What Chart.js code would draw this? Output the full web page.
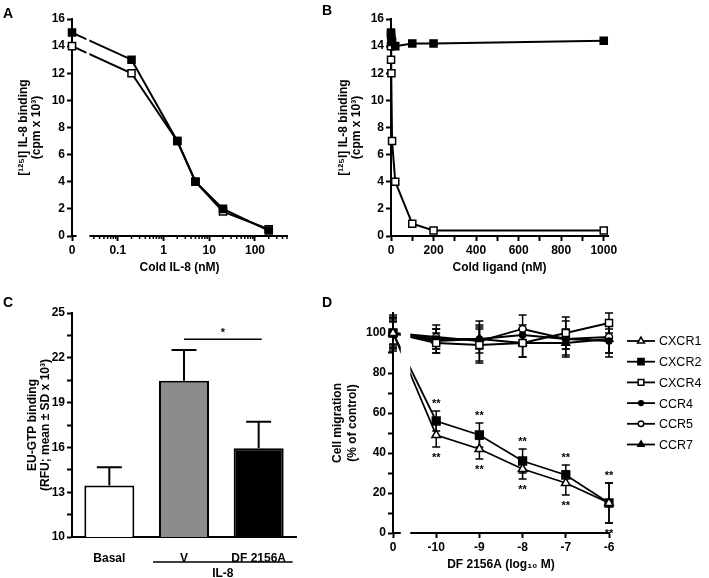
<!DOCTYPE html>
<html>
<head>
<meta charset="utf-8">
<script src="https://cdn.jsdelivr.net/npm/chart.js@4.4.0/dist/chart.umd.min.js"></script>
<style>
body { margin: 0; background: #fff; width: 709px; height: 578px; position: relative; overflow: hidden; font-family: "Liberation Sans", Arial, sans-serif; }
canvas { position: absolute; }
.letter { position: absolute; font-weight: bold; font-size: 14px; line-height: 14px; }
</style>
</head>
<body>
<canvas id="chartA" width="340" height="280" style="left:0;top:0"></canvas>
<canvas id="chartB" width="374" height="280" style="left:335px;top:0"></canvas>
<canvas id="chartC" width="330" height="288" style="left:0;top:290px"></canvas>
<canvas id="chartD" width="379" height="288" style="left:330px;top:290px"></canvas>
<div class="letter" style="left:3px;top:6px">A</div>
<div class="letter" style="left:322px;top:3px">B</div>
<div class="letter" style="left:3px;top:295px">C</div>
<div class="letter" style="left:322px;top:295px">D</div>
<script>
// ---- Panel A : competition with cold IL-8 (log axis, 0 drawn at the left) ----
const concA = [0, 0.2, 2, 5, 20, 200];
const bindFilledA = [15, 13, 7, 4, 2, 0.4];
const bindOpenA = [14, 12, 7, 4, 1.8, 0.5];
const tickConcA = [0, 0.1, 1, 10, 100];

// ---- Panel B : cold ligand, linear axis ----
const concB = [0, 0.2, 2, 5, 20, 100, 200, 1000];
const bindFilledB = [15, 14.8, 14.5, 14.3, 14.0, 14.2, 14.2, 14.4];
const bindOpenB = [14, 13, 12, 7, 4, 0.9, 0.4, 0.4];

// ---- Panel C : EU-GTP binding ----
const groupsC = ['Basal', 'V', 'DF 2156A'];
const meanC = [13.45, 20.47, 15.94];
const sdC = [1.22, 2.05, 1.78];
const sigPairC = ['V', 'DF 2156A'];
const sigLevelC = 23.25;
const sigTextC = '*';
const groupLabelC = 'IL-8';
const groupMembersC = ['V', 'DF 2156A'];

// ---- Panel D : cell migration vs DF 2156A ----
const doseD = [0, -10, -9, -8, -7, -6];
const doseLabelsD = ['0', '-10', '-9', '-8', '-7', '-6'];
const receptorsD = ['CXCR1', 'CXCR2', 'CXCR4', 'CCR4', 'CCR5', 'CCR7'];
const migCXCR1 = [100, 49, 42, 32, 25, 15];
const errCXCR1 = [7, 6, 5, 5, 6, 10];
const migCXCR2 = [100, 56, 49, 36, 29, 15];
const errCXCR2 = [8, 5, 6, 6, 5, 10];
const migCXCR4 = [100, 95, 94, 95, 100, 105];
const errCXCR4 = [9, 5, 9, 7, 8, 5];
const migCCR4 = [100, 97, 97, 99, 97, 96];
const errCCR4 = [6, 5, 5, 5, 5, 6];
const migCCR5 = [100, 98, 96, 102, 97, 98];
const errCCR5 = [7.5, 6, 10, 7, 9, 8];
const migCCR7 = [100, 96, 97, 95, 95, 97];
const errCCR7 = [5.5, 6, 7, 7, 6, 9];
const starsAboveD = ['', '**', '**', '**', '**', '**'];
const starsBelowD = ['', '**', '**', '**', '**', '**'];

// where the "0" dose sits on the transformed axes, and the axis breaks
const zeroPosA = -2;
const breakA = [-1.9, -1.62];
const zeroPosD = -11;
const breakD = [-10.82, -10.6];

Chart.defaults.font.family = '"Liberation Sans", Arial, sans-serif';
Chart.defaults.font.size = 12;
Chart.defaults.color = '#000';
Chart.defaults.plugins.legend.display = false;
Chart.defaults.plugins.tooltip.enabled = false;

const boldFont = { size: 12, weight: 'bold' };

function axis(extra) {
    const base = {
        grid: { display: true, drawOnChartArea: false, tickLength: 5, tickWidth: 2, tickColor: '#000' },
        border: { display: true, color: '#000', width: 2 },
        ticks: { font: boldFont, color: '#000', padding: 2, autoSkip: false, maxRotation: 0 }
    };
    return Object.assign(base, extra);
}

function lineSet(xs, ys, style, filled, extra) {
    return Object.assign({
        data: xs.map((x, i) => ({ x: x, y: ys[i] })),
        borderColor: '#000',
        borderWidth: 2,
        pointStyle: style,
        pointRadius: 5,
        pointBorderWidth: 1.5,
        pointBorderColor: '#000',
        pointBackgroundColor: filled ? '#000' : '#fff',
        clip: false,
        tension: 0
    }, extra || {});
}

// ---------------- A ----------------
const logA = c => c === 0 ? zeroPosA : Math.log10(c);
const minorA = [];
for (let d = -2; d <= 2; d++) {
    for (let k = 2; k <= 9; k++) {
        const v = d + Math.log10(k);
        if (v > breakA[1] && v < 2.7) minorA.push(v);
    }
}

new Chart(document.getElementById('chartA'), {
    type: 'line',
    data: {
        datasets: [
            lineSet(concA.map(logA), bindFilledA, 'rect', true),
            lineSet(concA.map(logA), bindOpenA, 'rect', false)
        ]
    },
    options: {
        responsive: false,
        animation: false,
        layout: { padding: { top: 19, right: 53, left: 0, bottom: 0 } },
        scales: {
            x: axis({
                type: 'linear', min: zeroPosA, max: 2.7,
                afterBuildTicks: s => { s.ticks = tickConcA.map(c => ({ value: logA(c) })); },
                afterFit: s => { s.height = 44; },
                title: { display: true, text: 'Cold IL-8 (nM)', font: boldFont, padding: { top: 0, bottom: 5 } }
            }),
            y: axis({
                min: 0, max: 16,
                afterBuildTicks: s => { s.ticks = [0, 2, 4, 6, 8, 10, 12, 14, 16].map(v => ({ value: v })); },
                afterFit: s => { s.width = 72; },
                title: { display: true, text: ['[¹²⁵I] IL-8 binding', '(cpm x 10³)'], font: { size: 12, weight: 'bold', lineHeight: 1.12 }, padding: { top: 17, bottom: 0 } }
            })
        }
    },
    plugins: [{
        id: 'labelsAndBreakA',
        afterDraw(chart) {
            const ctx = chart.ctx, x = chart.scales.x, a = chart.chartArea;
            ctx.save();
            ctx.strokeStyle = '#000';
            ctx.lineWidth = 1.5;
            minorA.forEach(v => {
                const px = x.getPixelForValue(v);
                ctx.beginPath();
                ctx.moveTo(px, a.bottom);
                ctx.lineTo(px, a.bottom + 3);
                ctx.stroke();
            });
            const g0 = x.getPixelForValue(breakA[0]), g1 = x.getPixelForValue(breakA[1]);
            ctx.fillStyle = '#fff';
            ctx.fillRect(g0, a.bottom - 2, g1 - g0, 4);
            ctx.fillRect(g1 - 3, a.top - 4, 3, a.bottom - a.top - 4);
            ctx.restore();
        }
    }]
});
Chart.getChart('chartA').options.scales.x.ticks.callback = (v, i) => String(tickConcA[i]);
Chart.getChart('chartA').update();

// ---------------- B ----------------
new Chart(document.getElementById('chartB'), {
    type: 'line',
    data: {
        datasets: [
            lineSet(concB, bindFilledB, 'rect', true),
            lineSet(concB, bindOpenB, 'rect', false)
        ]
    },
    options: {
        responsive: false,
        animation: false,
        layout: { padding: { top: 19, right: 101, left: 0, bottom: 0 } },
        scales: {
            x: axis({
                type: 'linear', min: 0, max: 1020,
                afterBuildTicks: s => { s.ticks = [0, 100, 200, 300, 400, 500, 600, 700, 800, 900, 1000].map(v => ({ value: v })); },
                afterFit: s => { s.height = 44; },
                title: { display: true, text: 'Cold ligand (nM)', font: boldFont, padding: { top: 0, bottom: 5 } }
            }),
            y: axis({
                min: 0, max: 16,
                afterBuildTicks: s => { s.ticks = [0, 2, 4, 6, 8, 10, 12, 14, 16].map(v => ({ value: v })); },
                afterFit: s => { s.width = 56; },
                title: { display: true, text: ['[¹²⁵I] IL-8 binding', '(cpm x 10³)'], font: { size: 12, weight: 'bold', lineHeight: 1.12 }, padding: { top: 2, bottom: 0 } }
            })
        }
    }
});
Chart.getChart('chartB').options.scales.x.ticks.callback = v => (v % 200 === 0 ? String(v) : '');
Chart.getChart('chartB').update();

// ---------------- C ----------------
new Chart(document.getElementById('chartC'), {
    type: 'bar',
    data: {
        labels: groupsC,
        datasets: [{
            data: meanC,
            errors: sdC,
            backgroundColor: ['#ffffff', '#8c8c8c', '#000000'],
            borderColor: '#000',
            borderWidth: 2,
            borderSkipped: false,
            barPercentage: 0.67,
            categoryPercentage: 1.0
        }]
    },
    options: {
        responsive: false,
        animation: false,
        layout: { padding: { top: 23, right: 34, left: 0, bottom: 0 } },
        scales: {
            x: {
                grid: { display: false },
                border: { display: true, color: '#000', width: 2 },
                ticks: { font: boldFont, color: '#000', padding: 6 },
                afterFit: s => { s.height = 41; }
            },
            y: axis({
                min: 10, max: 25,
                afterBuildTicks: s => { s.ticks = [10, 11.5, 13, 14.5, 16, 17.5, 19, 20.5, 22, 23.5, 25].map(v => ({ value: v })); },
                afterFit: s => { s.width = 72; },
                title: { display: true, text: ['EU-GTP binding', '(RFU; mean ± SD x 10³)'], font: { size: 12, weight: 'bold', lineHeight: 1.1 }, padding: { top: 26, bottom: 0 } }
            })
        }
    },
    plugins: [{
        id: 'extrasC',
        afterDatasetsDraw(chart) {
            const ctx = chart.ctx, y = chart.scales.y, x = chart.scales.x, a = chart.chartArea;
            const ds = chart.data.datasets[0];
            const meta = chart.getDatasetMeta(0);
            ctx.save();
            ctx.strokeStyle = '#000';
            ctx.lineWidth = 2;
            meta.data.forEach((bar, i) => {
                const top = y.getPixelForValue(ds.data[i] + ds.errors[i]);
                ctx.beginPath();
                ctx.moveTo(bar.x, bar.y);
                ctx.lineTo(bar.x, top);
                ctx.moveTo(bar.x - 12.5, top);
                ctx.lineTo(bar.x + 12.5, top);
                ctx.stroke();
            });
            // significance bar
            const sx0 = x.getPixelForValue(groupsC.indexOf(sigPairC[0]));
            const sx1 = x.getPixelForValue(groupsC.indexOf(sigPairC[1])) + 3;
            const sy = y.getPixelForValue(sigLevelC);
            ctx.lineWidth = 1.5;
            ctx.beginPath();
            ctx.moveTo(sx0, sy);
            ctx.lineTo(sx1, sy);
            ctx.stroke();
            ctx.fillStyle = '#000';
            ctx.font = 'bold 11px "Liberation Sans", Arial, sans-serif';
            ctx.textAlign = 'center';
            ctx.textBaseline = 'middle';
            ctx.fillText(sigTextC, (sx0 + sx1) / 2, sy - 6);
            // IL-8 group line under the labels
            const gx0 = x.getPixelForValue(groupsC.indexOf(groupMembersC[0])) - 31;
            const gx1 = x.getPixelForValue(groupsC.indexOf(groupMembersC[groupMembersC.length - 1])) + 34;
            ctx.lineWidth = 1.5;
            ctx.beginPath();
            ctx.moveTo(gx0, a.bottom + 25);
            ctx.lineTo(gx1, a.bottom + 25);
            ctx.stroke();
            ctx.font = 'bold 12px "Liberation Sans", Arial, sans-serif';
            ctx.fillText(groupLabelC, (gx0 + gx1) / 2, a.bottom + 37);
            ctx.restore();
        }
    }]
});
Chart.getChart('chartC').options.scales.y.ticks.callback = v => (Math.abs((v - 10) / 3 - Math.round((v - 10) / 3)) < 1e-6 ? String(v) : '');
Chart.getChart('chartC').update();

// ---------------- D ----------------
const xD = doseD.map(d => d === 0 ? zeroPosD : d);
const seriesD = [
    lineSet(xD, migCXCR1, 'triangle', false, { label: 'CXCR1', errors: errCXCR1, pointRadius: 5 }),
    lineSet(xD, migCXCR2, 'rect', true, { label: 'CXCR2', errors: errCXCR2, pointRadius: 5.5 }),
    lineSet(xD, migCXCR4, 'rect', false, { label: 'CXCR4', errors: errCXCR4, pointRadius: 5 }),
    lineSet(xD, migCCR4, 'circle', true, { label: 'CCR4', errors: errCCR4, pointRadius: 3 }),
    lineSet(xD, migCCR5, 'circle', false, { label: 'CCR5', errors: errCCR5, pointRadius: 3.5 }),
    lineSet(xD, migCCR7, 'triangle', true, { label: 'CCR7', errors: errCCR7, pointRadius: 4.5 })
];
seriesD.forEach(s => { s.borderWidth = 1.8; });

new Chart(document.getElementById('chartD'), {
    type: 'line',
    data: { datasets: seriesD },
    options: {
        responsive: false,
        animation: false,
        layout: { padding: { top: 23, right: 100, left: 0, bottom: 0 } },
        scales: {
            x: axis({
                type: 'linear', min: zeroPosD, max: -6,
                afterBuildTicks: s => { s.ticks = xD.map(v => ({ value: v })); },
                afterFit: s => { s.height = 45; },
                title: { display: true, text: 'DF 2156A (log₁₀ M)', font: boldFont, padding: { top: 0, bottom: 6 } }
            }),
            y: axis({
                min: 0, max: 110,
                afterBuildTicks: s => { s.ticks = [0, 10, 20, 30, 40, 50, 60, 70, 80, 90, 100].map(v => ({ value: v })); },
                afterFit: s => { s.width = 63; },
                title: { display: true, text: ['Cell migration', '(% of control)'], font: { size: 12, weight: 'bold', lineHeight: 1.25 }, padding: { top: 0, bottom: 0 } }
            })
        }
    },
    plugins: [{
        id: 'errorBarsD',
        beforeDatasetsDraw(chart) {
            const ctx = chart.ctx, y = chart.scales.y;
            ctx.save();
            ctx.strokeStyle = '#000';
            ctx.lineWidth = 1.5;
            chart.data.datasets.forEach((ds, i) => {
                chart.getDatasetMeta(i).data.forEach((pt, j) => {
                    const v = ds.data[j].y, e = ds.errors[j];
                    const t = y.getPixelForValue(v + e), b = y.getPixelForValue(v - e);
                    ctx.beginPath();
                    ctx.moveTo(pt.x, t); ctx.lineTo(pt.x, b);
                    ctx.moveTo(pt.x - 4, t); ctx.lineTo(pt.x + 4, t);
                    ctx.moveTo(pt.x - 4, b); ctx.lineTo(pt.x + 4, b);
                    ctx.stroke();
                });
            });
            ctx.restore();
        },
        afterDraw(chart) {
            const ctx = chart.ctx, x = chart.scales.x, y = chart.scales.y, a = chart.chartArea;
            ctx.save();
            // axis break
            const g0 = x.getPixelForValue(breakD[0]), g1 = x.getPixelForValue(breakD[1]);
            ctx.fillStyle = '#fff';
            ctx.fillRect(g0, a.top - 8, g1 - g0, a.bottom - a.top + 10);
            // significance stars
            ctx.fillStyle = '#000';
            ctx.font = 'bold 11px "Liberation Sans", Arial, sans-serif';
            ctx.textAlign = 'center';
            ctx.textBaseline = 'middle';
            xD.forEach((xv, j) => {
                const px = x.getPixelForValue(xv);
                if (starsAboveD[j]) ctx.fillText(starsAboveD[j], px, y.getPixelForValue(migCXCR2[j] + errCXCR2[j]) - 7);
                if (starsBelowD[j]) ctx.fillText(starsBelowD[j], px, y.getPixelForValue(migCXCR1[j] - errCXCR1[j]) + 11);
            });
            // legend: line with marker, then name
            const lx = a.right + 18, ly = a.top + 28;
            chart.data.datasets.forEach((ds, i) => {
                const yy = ly + i * 20.7;
                ctx.strokeStyle = '#000';
                ctx.lineWidth = 1.8;
                ctx.beginPath();
                ctx.moveTo(lx, yy);
                ctx.lineTo(lx + 28, yy);
                ctx.stroke();
                ctx.fillStyle = ds.pointBackgroundColor;
                ctx.lineWidth = 1.5;
                Chart.helpers.drawPoint(ctx, { pointStyle: ds.pointStyle, radius: ds.pointRadius * 0.8, borderWidth: 1.5, rotation: 0 }, lx + 14, yy);
                ctx.fillStyle = '#000';
                ctx.font = '12.5px "Liberation Sans", Arial, sans-serif';
                ctx.textAlign = 'left';
                ctx.fillText(ds.label, lx + 32, yy + 1);
            });
            ctx.restore();
        }
    }]
});
Chart.getChart('chartD').options.scales.x.ticks.callback = (v, i) => doseLabelsD[i];
Chart.getChart('chartD').options.scales.y.ticks.callback = v => (v % 20 === 0 ? String(v) : '');
Chart.getChart('chartD').update();
</script>
</body>
</html>
